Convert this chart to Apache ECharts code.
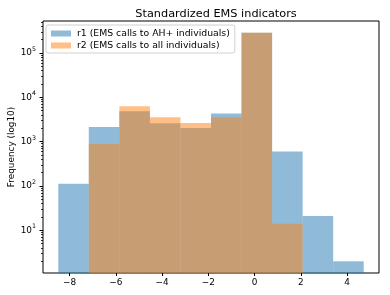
<!DOCTYPE html>
<html>
<head>
<meta charset="utf-8">
<script src="https://cdn.jsdelivr.net/npm/echarts@6/dist/echarts.min.js"></script>
<style>html,body{margin:0;padding:0;background:#fff;}#c{width:390px;height:295px;}</style>
</head>
<body>
<div id="c"></div>
<script>
// Shared histogram bin edges
var binEdges = [-8.49, -7.169, -5.848, -4.527, -3.206, -1.885, -0.564, 0.757, 2.078, 3.399, 4.72];
// Counts per bin (null = empty bin)
var r1Counts = [113, 2140, 4840, 2600, 2040, 4300, 288000, 598, 21, 2];
var r2Counts = [null, 887, 6280, 3550, 2640, 3550, 286000, 14, null, null];
var seriesNames = ['r1 (EMS calls to AH+ individuals)', 'r2 (EMS calls to all individuals)'];
var xTicks = [-8, -6, -4, -2, 0, 2, 4];
var yTicks = [10, 100, 1000, 10000, 100000];
var yMinorTicks = [2,3,4,5,6,7,8,9,20,30,40,50,60,70,80,90,200,300,400,500,600,700,800,900,2000,3000,4000,5000,6000,7000,8000,9000,20000,30000,40000,50000,60000,70000,80000,90000,200000,300000,400000,500000];

var X_MIN = -9.15, X_MAX = 5.38, Y_MIN = 1.089, Y_MAX = 526800;
var FONT = 'DejaVu Sans';
var FS = 8.9;

function binData(counts) {
  var out = [];
  for (var i = 0; i < counts.length; i++) {
    if (counts[i] != null) out.push([binEdges[i], binEdges[i + 1], counts[i]]);
  }
  return out;
}
function renderBar(params, api) {
  var p0 = api.coord([api.value(0), api.value(2)]);
  var p1 = api.coord([api.value(1), Y_MIN]);
  return {
    type: 'rect',
    shape: { x: p0[0], y: p0[1], width: p1[0] - p0[0], height: p1[1] - p0[1] },
    style: api.style()
  };
}
function supLabel(v) {
  var e = Math.round(Math.log10(v));
  return '{b|10}{s|' + e + '}';
}

var chart = echarts.init(document.getElementById('c'), null, { renderer: 'canvas' });
chart.setOption({
  animation: false,
  backgroundColor: '#fff',
  title: {
    text: 'Standardized EMS indicators',
    left: 211, textAlign: 'center', top: 4,
    textStyle: { fontFamily: FONT, fontSize: 11.3, fontWeight: 'normal', color: '#000' }
  },
  legend: {
    orient: 'vertical', left: 46, top: 25,
    padding: [4, 5, 3, 5], itemGap: 3,
    itemWidth: 20, itemHeight: 6,
    borderColor: '#d0d0d0', borderWidth: 1, borderRadius: 2,
    backgroundColor: 'rgba(255,255,255,0.8)',
    textStyle: { fontFamily: FONT, fontSize: 9.3, color: '#000', padding: [0, 0, 0, 1] },
    data: [{ name: seriesNames[0], icon: 'rect' }, { name: seriesNames[1], icon: 'rect' }]
  },
  grid: {
    left: 43, right: 11, top: 21, bottom: 22,
    containLabel: false, outerBoundsMode: 'none',
    show: true, borderColor: '#000', borderWidth: 1, backgroundColor: 'transparent'
  },
  xAxis: {
    type: 'value', min: X_MIN, max: X_MAX,
    axisLine: { show: false, onZero: false },
    splitLine: { show: false },
    axisTick: { show: true, length: 3, lineStyle: { color: '#000' }, customValues: xTicks },
    axisLabel: {
      customValues: xTicks, margin: 5,
      fontFamily: FONT, fontSize: FS, color: '#000',
      formatter: function (v) { return String(v).replace('-', '\u2212'); }
    }
  },
  yAxis: [{
    type: 'log', logBase: 10, min: Y_MIN, max: Y_MAX,
    name: 'Frequency (log10)', nameLocation: 'middle', nameGap: 27, nameMoveOverlap: false,
    nameTextStyle: { fontFamily: FONT, fontSize: FS, color: '#000' },
    axisLine: { show: false, onZero: false },
    splitLine: { show: false },
    axisTick: { show: true, length: 3.5, lineStyle: { color: '#000' }, customValues: yTicks },
    axisLabel: {
      customValues: yTicks, margin: 7,
      formatter: supLabel,
      rich: {
        b: { fontFamily: FONT, fontSize: FS, color: '#000' },
        s: { fontFamily: FONT, fontSize: 6.3, color: '#000', padding: [0, 0, 7, 0] }
      }
    }
  }, {
    type: 'log', logBase: 10, min: Y_MIN, max: Y_MAX, position: 'left',
    axisLine: { show: false, onZero: false }, splitLine: { show: false },
    axisTick: { show: true, length: 2, lineStyle: { color: '#000', width: 0.8 }, customValues: yMinorTicks },
    axisLabel: { show: false }
  }],
  series: [{
    name: seriesNames[0], type: 'custom', renderItem: renderBar,
    encode: { x: [0, 1], y: 2 },
    itemStyle: { color: '#1f77b4', opacity: 0.5 },
    data: binData(r1Counts), z: 2
  }, {
    name: seriesNames[1], type: 'custom', renderItem: renderBar,
    encode: { x: [0, 1], y: 2 },
    itemStyle: { color: '#ff7f0e', opacity: 0.5 },
    data: binData(r2Counts), z: 3
  }]
});
</script>
</body>
</html>
